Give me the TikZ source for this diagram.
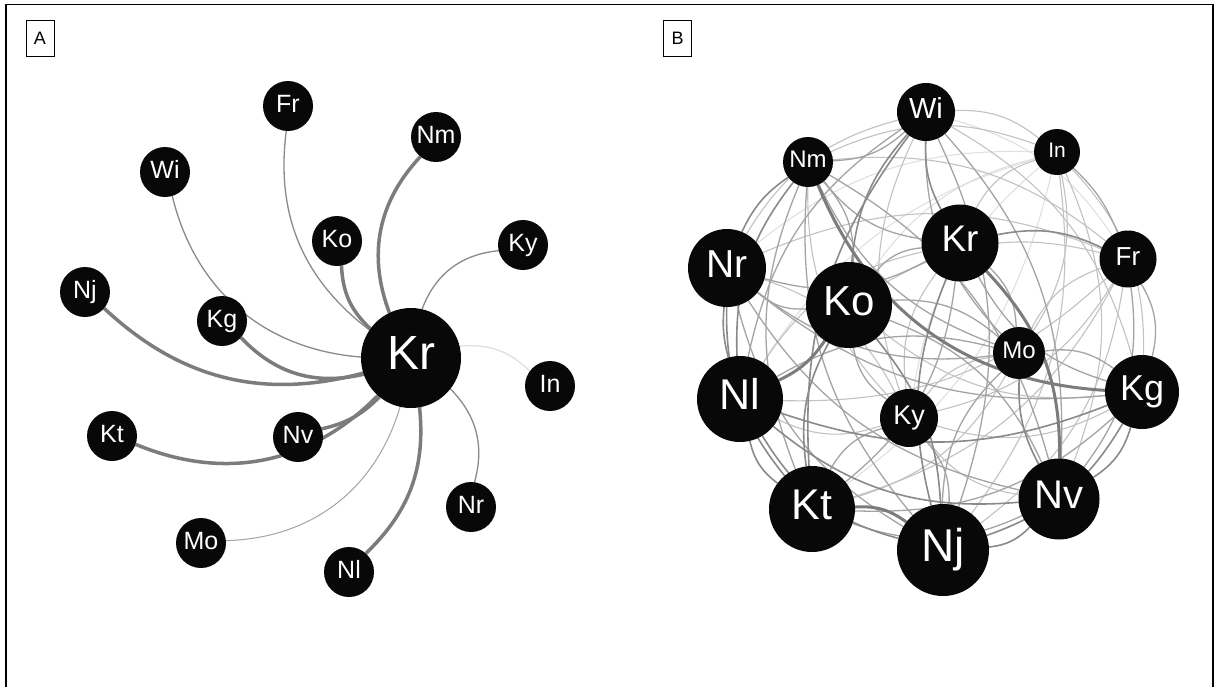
\documentclass[tikz,border=0pt]{standalone}
\usepackage{fontspec}
\setmainfont{Liberation Sans}
\pgfdeclarelayer{back}
\pgfdeclarelayer{edges}
\pgfsetlayers{back,edges,main}
\definecolor{nodeblack}{HTML}{080808}
\definecolor{cT}{HTML}{7C7C7C}
\definecolor{cD}{HTML}{8A8A8A}
\definecolor{cM}{HTML}{A4A4A4}
\definecolor{cL}{HTML}{C2C2C2}
\definecolor{cV}{HTML}{DEDEDE}
\tikzset{
  gn/.style={circle, fill=nodeblack, draw=none, inner sep=0pt, outer sep=0pt},
  gl/.style={text=white, inner sep=0pt, anchor=base},
  tag/.style={draw=black, line width=0.9pt, minimum width=28pt, minimum height=36pt,
    inner sep=0pt, font=\fontsize{18pt}{18pt}\selectfont},
  frame/.style={draw=black, line width=1.6pt},
  aT/.style={draw=cT, line width=3.5pt},
  aN/.style={draw=cD, line width=1.3pt},
  aF/.style={draw=cM, line width=1.0pt},
  aVF/.style={draw=cV, line width=1.2pt},
  eT/.style={draw=cT, line width=3pt},
  eD/.style={draw=cD, line width=1.6pt},
  eM/.style={draw=cM, line width=1.3pt},
  eL/.style={draw=cL, line width=1.1pt},
  eV/.style={draw=cV, line width=1.0pt}
}
\newcommand\gnd[6]{%
  \node[gn, minimum size={2*#4pt}] (#1) at (#2,#3) {};
  \node[gl, font=\fontsize{#5pt}{#5pt}\selectfont] (#1-t) at ([yshift={-0.24*#5pt}]#1.center) {#6};}
\begin{document}
\begin{tikzpicture}[x=1pt,y=-1pt]
\useasboundingbox (0,0) rectangle (1217,686);
\begin{pgfonlayer}{back}
\fill[white] (0,0) rectangle (1217,686);
\end{pgfonlayer}
\draw[frame] (6,690) -- (6,4.5) -- (1213,4.5) -- (1213,690);
\node[tag] (tagA) at (40,38) {A};
\node[tag] (tagB) at (677.5,38) {B};

% ---------- Panel A ----------
\gnd{A-Fr}{288}{106}{25}{25}{Fr}
\gnd{A-Nm}{436}{137}{25}{25}{Nm}
\gnd{A-Wi}{165}{172}{25}{25}{Wi}
\gnd{A-Ko}{337}{241}{25}{25}{Ko}
\gnd{A-Ky}{523}{245}{25}{25}{Ky}
\gnd{A-Nj}{85}{292}{25}{25}{Nj}
\gnd{A-Kg}{222}{321}{25}{25}{Kg}
\gnd{A-Kr}{411}{358}{50}{48}{Kr}
\gnd{A-In}{550}{386}{25}{25}{In}
\gnd{A-Kt}{112}{436}{25}{25}{Kt}
\gnd{A-Nv}{298}{437}{25}{25}{Nv}
\gnd{A-Nr}{471}{507}{25}{25}{Nr}
\gnd{A-Mo}{201}{543}{25}{25}{Mo}
\gnd{A-Nl}{349}{572}{25}{25}{Nl}

% ---------- Panel B ----------
\gnd{B-Wi}{926}{112}{29}{29}{Wi}
\gnd{B-Nm}{808}{162}{25}{24}{Nm}
\gnd{B-In}{1057}{152}{23}{21}{In}
\gnd{B-Kr}{960}{243}{38.5}{37}{Kr}
\gnd{B-Nr}{727}{268}{39}{39}{Nr}
\gnd{B-Fr}{1128}{259}{28.5}{26}{Fr}
\gnd{B-Ko}{849}{305}{43}{42}{Ko}
\gnd{B-Mo}{1019}{353}{26}{24}{Mo}
\gnd{B-Nl}{740}{399}{43}{43}{Nl}
\gnd{B-Kg}{1142}{392}{37}{36}{Kg}
\gnd{B-Ky}{909}{418}{29}{27}{Ky}
\gnd{B-Kt}{812}{509}{43}{43}{Kt}
\gnd{B-Nv}{1059}{499}{40.5}{40}{Nv}
\gnd{B-Nj}{943}{550}{46}{46}{Nj}

\begin{pgfonlayer}{edges}
% Panel A edges (all towards Kr)
\draw[aVF] (A-In) to[bend right=25] (A-Kr);
\draw[aF]  (A-Mo) to[bend right=36] (A-Kr);
\draw[aN]  (A-Fr) to[bend right=30] (A-Kr);
\draw[aN]  (A-Wi) to[bend right=36] (A-Kr);
\draw[aN]  (A-Ky) to[bend right=32] (A-Kr);
\draw[aN]  (A-Nr) to[bend right=30] (A-Kr);
\draw[aT]  (A-Nm) to[bend right=32] (A-Kr);
\draw[aT]  (A-Nj) to[bend right=29] (A-Kr);
\draw[aT]  (A-Kg) to[bend right=30] (A-Kr);
\draw[aT]  (A-Ko) to[bend right=22] (A-Kr);
\draw[aT]  (A-Kt) to[bend right=34] (A-Kr);
\draw[aT]  (A-Nv) to[bend right=16] (A-Kr);
\draw[aT]  (A-Nl) to[bend right=26] (A-Kr);

% Panel B edges
\foreach \a/\b/\g in {Wi/Fr/-20, In/Nr/20, In/Ko/20, In/Nl/20, In/Ky/20, In/Kt/-20}
  \draw[eV] (B-\a) to[bend right=\g] (B-\b);
\foreach \a/\b/\g in {Wi/In/-20, Wi/Nr/22, Wi/Kg/-22, Wi/Ky/22, Nm/In/-22, Nm/Fr/-22,
  Nm/Ky/22, In/Kr/22, In/Mo/-22, In/Kg/-22, In/Nv/-22, In/Nj/-22, Kr/Nl/22, Kr/Ky/22,
  Nr/Fr/-22, Nr/Ky/-22, Fr/Ko/22, Fr/Mo/22, Fr/Nl/-22, Fr/Ky/-22, Fr/Kt/-22, Fr/Nj/-22,
  Ko/Kg/22, Mo/Ky/22, Mo/Kt/-22, Nl/Ky/22, Kg/Ky/-22, Ky/Nv/22}
  \draw[eL] (B-\a) to[bend right=\g] (B-\b);
\foreach \a/\b/\g in {Wi/Nm/-20, Wi/Mo/22, Wi/Nl/22, Wi/Nv/-22, Wi/Nj/-22, Nm/Kr/22,
  Nm/Ko/-22, Nm/Mo/22, Nm/Kt/22, Nm/Nv/-22, Nm/Nj/22, In/Fr/-12, Kr/Nr/-22, Kr/Ko/22,
  Kr/Mo/-22, Kr/Kg/22, Kr/Kt/-22, Nr/Ko/22, Nr/Mo/22, Nr/Kg/22, Nr/Nv/22, Nr/Nj/22,
  Fr/Kg/-22, Fr/Nv/-22, Ko/Mo/-22, Ko/Ky/22, Ko/Nv/-22, Mo/Nl/22, Mo/Kg/-22, Mo/Nj/22,
  Kg/Kt/-22, Ky/Kt/22, Ky/Nj/-22, Kt/Nv/22}
  \draw[eM] (B-\a) to[bend right=\g] (B-\b);
\foreach \a/\b/\g in {Wi/Kr/15, Wi/Ko/18, Wi/Kt/20, Nm/Nr/15, Nm/Nl/20, Kr/Fr/-18,
  Kr/Nj/18, Nr/Nl/10, Nr/Kt/20, Ko/Kt/18, Ko/Nj/-18, Mo/Nv/15, Nl/Kg/20, Nl/Kt/20,
  Nl/Nv/22, Nl/Nj/22, Kg/Nv/-20, Kg/Nj/-20, Nv/Nj/-20}
  \draw[eD] (B-\a) to[bend right=\g] (B-\b);
\foreach \a/\b/\g in {Nm/Kg/32, Kr/Nv/-22, Ko/Nl/-15, Kt/Nj/-20}
  \draw[eT] (B-\a) to[bend right=\g] (B-\b);
\end{pgfonlayer}
\end{tikzpicture}
\end{document}
